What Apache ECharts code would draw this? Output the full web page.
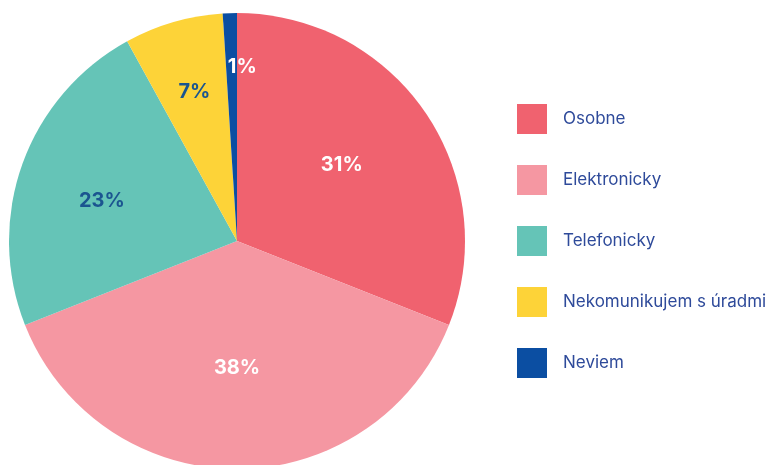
<!DOCTYPE html>
<html>
<head>
<meta charset="utf-8">
<script src="https://cdn.jsdelivr.net/npm/echarts@6/dist/echarts.min.js"></script>
<style>html,body{margin:0;padding:0;background:#fff;}#c{width:771px;height:465px;}</style>
</head>
<body>
<div id="c"></div>
<script>
const categories = ['Osobne', 'Elektronicky', 'Telefonicky', 'Nekomunikujem s úradmi', 'Neviem'];
const values = [31, 38, 23, 7, 1];
const colors = ['#F0626F', '#F597A2', '#65C4B7', '#FDD338', '#0B4EA2'];
const labelColors = ['#ffffff', '#ffffff', '#1B5590', '#1B5590', '#ffffff'];
const labelNudge = [[8, -10], [0, 10], [-25, 0], [-10, -37], [9, -57]];

const chart = echarts.init(document.getElementById('c'));
chart.setOption({
  animation: false,
  legend: {
    orient: 'vertical',
    left: 517,
    top: 104,
    padding: 0,
    itemWidth: 30,
    itemHeight: 30,
    itemGap: 31,
    icon: 'rect',
    data: categories,
    textStyle: {
      fontFamily: 'Inter',
      fontSize: 17,
      color: '#2E4A9A',
      padding: [0, 0, 0, 11]
    }
  },
  series: [{
    type: 'pie',
    center: [237, 241],
    radius: 228,
    startAngle: 90,
    clockwise: true,
    silent: true,
    label: {
      show: true,
      position: 'inside',
      formatter: '{c}%',
      fontFamily: 'Inter',
      fontWeight: 'bold',
      fontSize: 20
    },
    labelLine: { show: false },
    labelLayout: function (p) {
      const n = labelNudge[p.dataIndex];
      return { dx: n[0], dy: n[1] };
    },
    itemStyle: { borderWidth: 0 },
    data: categories.map((name, i) => ({
      name: name,
      value: values[i],
      itemStyle: { color: colors[i] },
      label: { color: labelColors[i] }
    }))
  }]
});
</script>
</body>
</html>
